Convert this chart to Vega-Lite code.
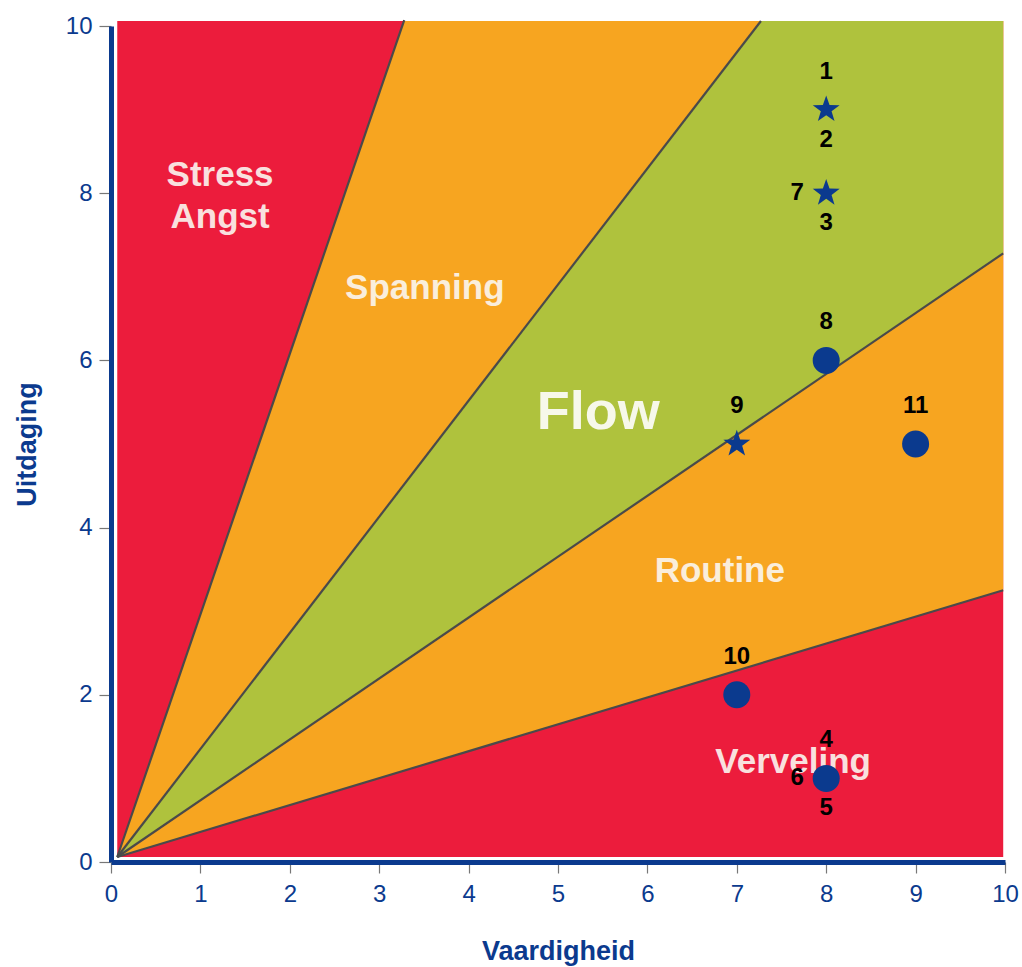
{
  "$schema": "https://vega.github.io/schema/vega-lite/v6.json",
  "autosize": "none",
  "padding": {"left": 111, "top": 26, "right": 17, "bottom": 105},
  "width": 894,
  "height": 836,
  "background": "white",
  "config": {
    "view": {"stroke": null},
    "font": "Liberation Sans",
    "axis": {
      "grid": false,
      "domainColor": "#0b3a8e",
      "domainWidth": 5,
      "tickColor": "#777777",
      "tickWidth": 1.2,
      "tickSize": 11,
      "labelFlush": false,
      "labelColor": "#0b3a8e",
      "labelFont": "Liberation Sans",
      "labelFontSize": 24,
      "labelFontWeight": "normal",
      "titleColor": "#0b3a8e",
      "titleFont": "Liberation Sans",
      "titleFontSize": 27,
      "titleFontWeight": "bold"
    }
  },
  "datasets": {
    "zone": [{"x0": 0.07, "x1": 9.98, "y0": 0.06, "y1": 10.06}],
    "orange": [
      {"x": 0.07, "lo": 0.06, "hi": 0.06},
      {"x": 3.28, "lo": 1.09, "hi": 10.06},
      {"x": 9.98, "lo": 3.25, "hi": 10.06}
    ],
    "green": [
      {"x": 0.07, "lo": 0.06, "hi": 0.06},
      {"x": 7.27, "lo": 5.3, "hi": 10.06},
      {"x": 9.98, "lo": 7.28, "hi": 10.06}
    ],
    "boundaries": [
      {"x0": 0.07, "y0": 0.06, "x1": 3.28, "y1": 10.07},
      {"x0": 0.07, "y0": 0.06, "x1": 7.27, "y1": 10.06},
      {"x0": 0.07, "y0": 0.06, "x1": 9.98, "y1": 7.28},
      {"x0": 0.07, "y0": 0.06, "x1": 9.98, "y1": 3.25}
    ],
    "zonelabels": [
      {"x": 1.22, "y": 8.22, "label": "Stress\nAngst"},
      {"x": 3.51, "y": 6.87, "label": "Spanning"},
      {"x": 6.81, "y": 3.48, "label": "Routine"},
      {"x": 7.63, "y": 1.2, "label": "Verveling"}
    ],
    "flowlabel": [{"x": 5.45, "y": 5.37, "label": "Flow"}],
    "points": [
      {"x": 8, "y": 9, "kind": "star"},
      {"x": 8, "y": 8, "kind": "star"},
      {"x": 7, "y": 5, "kind": "star"},
      {"x": 8, "y": 6, "kind": "circle"},
      {"x": 9, "y": 5, "kind": "circle"},
      {"x": 7, "y": 2, "kind": "circle"},
      {"x": 8, "y": 1, "kind": "circle"}
    ],
    "above": [
      {"x": 8, "y": 9, "label": "1"},
      {"x": 8, "y": 6, "label": "8"},
      {"x": 7, "y": 5, "label": "9"},
      {"x": 9, "y": 5, "label": "11"},
      {"x": 7, "y": 2, "label": "10"},
      {"x": 8, "y": 1, "label": "4"}
    ],
    "below": [
      {"x": 8, "y": 9, "label": "2"},
      {"x": 8, "y": 8, "label": "3"},
      {"x": 8, "y": 1, "label": "5"}
    ],
    "left": [
      {"x": 8, "y": 8, "label": "7"},
      {"x": 8, "y": 1, "label": "6"}
    ]
  },
  "layer": [
    {
      "data": {"name": "zone"},
      "mark": {"type": "rect", "color": "#ec1c3c", "clip": false},
      "encoding": {
        "x": {"field": "x0", "type": "quantitative", "scale": {"domain": [0, 10], "nice": false, "zero": true},
          "axis": {"title": "Vaardigheid", "values": [0,1,2,3,4,5,6,7,8,9,10], "format": "d", "labelPadding": 9, "titlePadding": 32}},
        "x2": {"field": "x1"},
        "y": {"field": "y0", "type": "quantitative", "scale": {"domain": [0, 10], "nice": false, "zero": true},
          "axis": {"title": "Uitdaging", "values": [0,2,4,6,8,10], "format": "d", "tickSize": 12, "labelPadding": 7, "titlePadding": 24}},
        "y2": {"field": "y1"}
      }
    },
    {
      "data": {"name": "orange"},
      "mark": {"type": "area", "color": "#f7a520", "orient": "vertical", "clip": false},
      "encoding": {
        "x": {"field": "x", "type": "quantitative"},
        "y": {"field": "lo", "type": "quantitative"},
        "y2": {"field": "hi"}
      }
    },
    {
      "data": {"name": "green"},
      "mark": {"type": "area", "color": "#afc23d", "orient": "vertical", "clip": false},
      "encoding": {
        "x": {"field": "x", "type": "quantitative"},
        "y": {"field": "lo", "type": "quantitative"},
        "y2": {"field": "hi"}
      }
    },
    {
      "data": {"name": "boundaries"},
      "mark": {"type": "rule", "color": "#4a4a4a", "strokeWidth": 2.2, "clip": false},
      "encoding": {
        "x": {"field": "x0", "type": "quantitative"},
        "y": {"field": "y0", "type": "quantitative"},
        "x2": {"field": "x1"},
        "y2": {"field": "y1"}
      }
    },
    {
      "data": {"name": "zonelabels"},
      "mark": {"type": "text", "color": "#fbf6f0", "opacity": 0.9, "fontSize": 35, "fontWeight": "bold", "font": "Liberation Sans", "lineBreak": "\n", "lineHeight": 42, "align": "center", "baseline": "middle"},
      "encoding": {
        "x": {"field": "x", "type": "quantitative"},
        "y": {"field": "y", "type": "quantitative"},
        "text": {"field": "label"}
      }
    },
    {
      "data": {"name": "flowlabel"},
      "mark": {"type": "text", "color": "#fbfbf4", "opacity": 0.95, "fontSize": 54, "fontWeight": "bold", "font": "Liberation Sans", "align": "center", "baseline": "middle"},
      "encoding": {
        "x": {"field": "x", "type": "quantitative"},
        "y": {"field": "y", "type": "quantitative"},
        "text": {"field": "label"}
      }
    },
    {
      "data": {"name": "points"},
      "transform": [{"filter": "datum.kind === 'star'"}],
      "mark": {"type": "point", "filled": true, "opacity": 1, "color": "#0b3a8e", "size": 800,
        "shape": "M0,-1L0.235,-0.324L0.951,-0.309L0.38,0.124L0.588,0.809L0,0.4L-0.588,0.809L-0.38,0.124L-0.951,-0.309L-0.235,-0.324Z"},
      "encoding": {
        "x": {"field": "x", "type": "quantitative"},
        "y": {"field": "y", "type": "quantitative"}
      }
    },
    {
      "data": {"name": "points"},
      "transform": [{"filter": "datum.kind === 'circle'"}],
      "mark": {"type": "point", "filled": true, "opacity": 1, "color": "#0b3a8e", "size": 729, "shape": "circle"},
      "encoding": {
        "x": {"field": "x", "type": "quantitative"},
        "y": {"field": "y", "type": "quantitative"}
      }
    },
    {
      "data": {"name": "above"},
      "mark": {"type": "text", "color": "black", "fontSize": 24, "fontWeight": "bold", "font": "Liberation Sans", "align": "center", "baseline": "middle", "dy": -38},
      "encoding": {
        "x": {"field": "x", "type": "quantitative"},
        "y": {"field": "y", "type": "quantitative"},
        "text": {"field": "label"}
      }
    },
    {
      "data": {"name": "below"},
      "mark": {"type": "text", "color": "black", "fontSize": 24, "fontWeight": "bold", "font": "Liberation Sans", "align": "center", "baseline": "middle", "dy": 30},
      "encoding": {
        "x": {"field": "x", "type": "quantitative"},
        "y": {"field": "y", "type": "quantitative"},
        "text": {"field": "label"}
      }
    },
    {
      "data": {"name": "left"},
      "mark": {"type": "text", "color": "black", "fontSize": 24, "fontWeight": "bold", "font": "Liberation Sans", "align": "center", "baseline": "middle", "dx": -29},
      "encoding": {
        "x": {"field": "x", "type": "quantitative"},
        "y": {"field": "y", "type": "quantitative"},
        "text": {"field": "label"}
      }
    }
  ]
}
